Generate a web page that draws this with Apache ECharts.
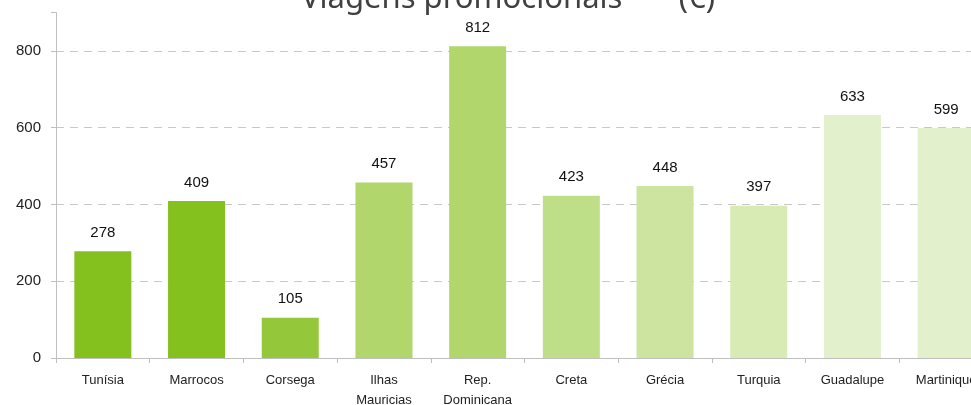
<!DOCTYPE html>
<html>
<head>
<meta charset="utf-8">
<script src="https://cdn.jsdelivr.net/npm/echarts@6/dist/echarts.min.js"></script>
<style>html,body{margin:0;padding:0;background:#fff;}#c{width:971px;height:405px;}</style>
</head>
<body>
<div id="c"></div>
<script>
const titleText = 'Viagens promocionais       (€)';
const categories = ['Tunísia', 'Marrocos', 'Corsega', 'Ilhas\nMauricias', 'Rep.\nDominicana', 'Creta', 'Grécia', 'Turquia', 'Guadalupe', 'Martinique'];
const values = [278, 409, 105, 457, 812, 423, 448, 397, 633, 599];
const barColors = ['#84c01e', '#84c01e', '#94c83a', '#b0d66c', '#b0d66c', '#bedf88', '#cce4a0', '#d9ebb5', '#e3f0cc', '#e3f0cc'];
const yTicks = [0, 200, 400, 600, 800];

const chart = echarts.init(document.getElementById('c'), null, {renderer: 'canvas'});
chart.setOption({
  animation: false,
  backgroundColor: '#ffffff',
  title: {
    text: titleText,
    left: 296,
    top: -21,
    textStyle: {fontFamily: 'Noto Sans', fontSize: 31, fontWeight: 'normal', color: '#404040'}
  },
  grid: {left: 56, top: 12.6, bottom: 47, width: 937, containLabel: false, outerBoundsMode: 'none'},
  xAxis: {
    type: 'category',
    data: categories,
    axisLine: {lineStyle: {color: '#bfbfbf'}},
    axisTick: {show: true, length: 5, lineStyle: {color: '#bfbfbf'}},
    axisLabel: {fontFamily: 'Liberation Sans', fontSize: 13, color: '#222', margin: 12, lineHeight: 20, interval: 0}
  },
  yAxis: {
    type: 'value',
    min: 0,
    max: 900,
    interval: 200,
    axisLine: {show: true, lineStyle: {color: '#bfbfbf'}},
    axisTick: {show: true, length: 5, lineStyle: {color: '#bfbfbf'}},
    axisLabel: {
      fontFamily: 'Liberation Sans', fontSize: 15, color: '#222', margin: 15,
      formatter: function (v) { return yTicks.indexOf(v) >= 0 ? String(v) : ''; }
    },
    splitLine: {show: true, lineStyle: {color: ['#c8c8c8', '#c8c8c8', '#c8c8c8', '#c8c8c8', '#c8c8c8', 'rgba(0,0,0,0)'], type: [8, 6], width: 1}}
  },
  series: [{
    type: 'bar',
    data: values.map((v, i) => ({value: v, itemStyle: {color: barColors[i]}})),
    barWidth: 57,
    label: {show: true, position: 'top', distance: 11, fontFamily: 'Liberation Sans', fontSize: 15, color: '#111'}
  }]
});
</script>
</body>
</html>
